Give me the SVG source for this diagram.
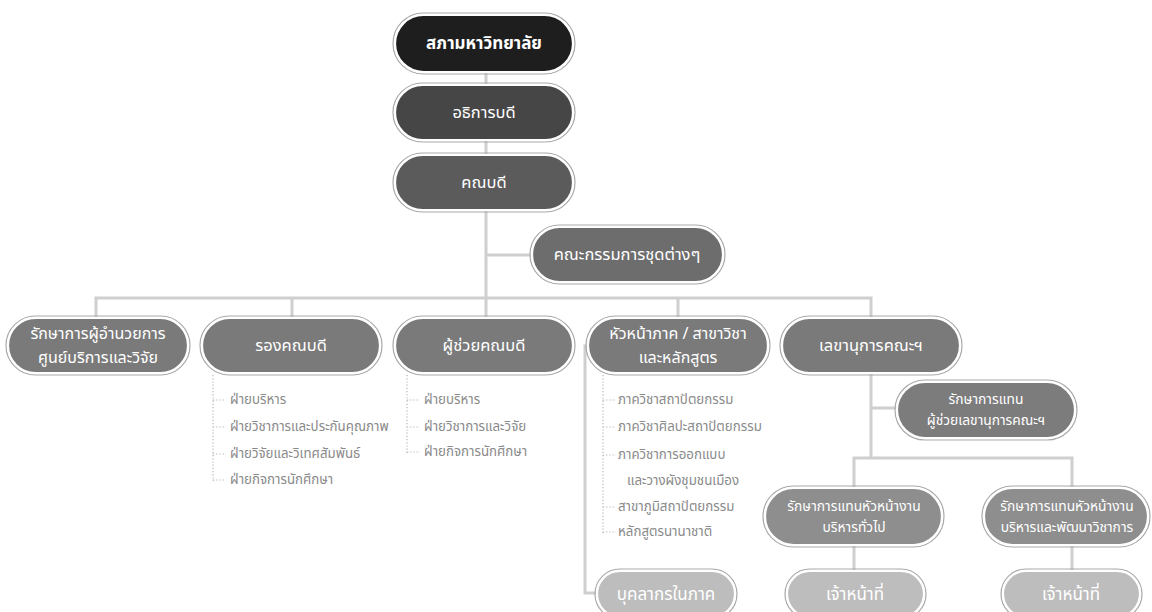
<svg xmlns="http://www.w3.org/2000/svg" width="1152" height="612" viewBox="0 0 1152 612">
<style>
.bg{fill:#ffffff}
.ring{fill:none;stroke:#a9a9a9;stroke-width:1.2}
.pill{stroke:#ffffff;stroke-width:2.2}
.t{font-family:'Noto Sans Thai','Noto Sans Thai UI','Noto Sans',Loma,Garuda,sans-serif;fill:#ffffff;text-anchor:middle}
.t16{font-size:16.5px}
.t15{font-size:16px}
.t14{font-size:13.8px}
.t17{font-size:17px}
.tb{font-weight:bold;font-size:17px}
.li{font-family:'Noto Sans Thai','Noto Sans Thai UI','Noto Sans',Loma,Garuda,sans-serif;font-size:13.3px;fill:#8a8a8a}
.c{fill:none;stroke:#cfcfcf;stroke-width:3}
.d{fill:none;stroke:#b5b5b5;stroke-width:1.2;stroke-dasharray:1.2 2}
</style>
<rect class="bg" x="0" y="0" width="1152" height="612"/>

<g id="connectors">
  <path class="c" d="M486,72 V298"/>
  <path class="c" d="M486,255 H532"/>
  <path class="c" d="M96,320 V298 H871 V320"/>
  <path class="c" d="M292,298 V320"/>
  <path class="c" d="M486,298 V320"/>
  <path class="c" d="M678,298 V320"/>
  <path class="c" d="M590,346 H585 V593 H598"/>
  <path class="c" d="M871,373 V458"/>
  <path class="c" d="M871,408 H897"/>
  <path class="c" d="M854,490 V458 H1072 V490"/>
  <path class="c" d="M854,545 V572"/>
  <path class="c" d="M1072,545 V572"/>
  <path class="d" d="M213,375 V481 M213,400 H226 M213,427 H226 M213,454 H226 M213,480 H226"/>
  <path class="d" d="M407,375 V453 M407,400 H420 M407,427 H420 M407,452 H420"/>
  <path class="d" d="M603,375 V533 M603,400 H616 M603,427 H616 M603,455 H616 M603,507 H616 M603,532 H616"/>
</g>

<g id="n-council">
  <rect class="ring" x="393" y="13" width="182" height="61" rx="30.5"/>
  <rect class="pill" x="395" y="15" width="178" height="57" rx="28.5" fill="#1e1e1e"/>
  <text class="t tb" x="484" y="49">สภามหาวิทยาลัย</text>
</g>
<g id="n-president">
  <rect class="ring" x="393" y="83" width="182" height="59" rx="29.5"/>
  <rect class="pill" x="395" y="85" width="178" height="55" rx="27.5" fill="#464646"/>
  <text class="t t16" x="484" y="118">อธิการบดี</text>
</g>
<g id="n-dean">
  <rect class="ring" x="393" y="153" width="182" height="59" rx="29.5"/>
  <rect class="pill" x="395" y="155" width="178" height="55" rx="27.5" fill="#5b5b5b"/>
  <text class="t t16" x="484" y="188">คณบดี</text>
</g>
<g id="n-committee">
  <rect class="ring" x="530" y="225" width="195" height="59" rx="29.5"/>
  <rect class="pill" x="532" y="227" width="191" height="55" rx="27.5" fill="#6d6d6d"/>
  <text class="t t16" x="627" y="260">คณะกรรมการชุดต่างๆ</text>
</g>

<g id="n-center">
  <rect class="ring" x="6" y="316" width="184" height="59" rx="29.5"/>
  <rect class="pill" x="8" y="318" width="180" height="55" rx="27.5" fill="#7a7a7a"/>
  <text class="t t15" x="98" y="339">รักษาการผู้อำนวยการ</text>
  <text class="t t15" x="98" y="363">ศูนย์บริการและวิจัย</text>
</g>
<g id="n-vice">
  <rect class="ring" x="200" y="316" width="182" height="59" rx="29.5"/>
  <rect class="pill" x="202" y="318" width="178" height="55" rx="27.5" fill="#7a7a7a"/>
  <text class="t t16" x="291" y="351">รองคณบดี</text>
  <text class="li" x="230" y="404">ฝ่ายบริหาร</text>
  <text class="li" x="230" y="431">ฝ่ายวิชาการและประกันคุณภาพ</text>
  <text class="li" x="230" y="458">ฝ่ายวิจัยและวิเทศสัมพันธ์</text>
  <text class="li" x="230" y="484">ฝ่ายกิจการนักศึกษา</text>
</g>
<g id="n-assistant">
  <rect class="ring" x="393" y="316" width="182" height="59" rx="29.5"/>
  <rect class="pill" x="395" y="318" width="178" height="55" rx="27.5" fill="#7a7a7a"/>
  <text class="t t16" x="484" y="351">ผู้ช่วยคณบดี</text>
  <text class="li" x="424" y="404">ฝ่ายบริหาร</text>
  <text class="li" x="424" y="431">ฝ่ายวิชาการและวิจัย</text>
  <text class="li" x="424" y="456">ฝ่ายกิจการนักศึกษา</text>
</g>
<g id="n-heads">
  <rect class="ring" x="586" y="316" width="184" height="59" rx="29.5"/>
  <rect class="pill" x="588" y="318" width="180" height="55" rx="27.5" fill="#7a7a7a"/>
  <text class="t t15" x="678" y="339">หัวหน้าภาค / สาขาวิชา</text>
  <text class="t t15" x="678" y="363">และหลักสูตร</text>
  <text class="li" x="618" y="404">ภาควิชาสถาปัตยกรรม</text>
  <text class="li" x="618" y="431">ภาควิชาศิลปะสถาปัตยกรรม</text>
  <text class="li" x="618" y="459">ภาควิชาการออกแบบ</text>
  <text class="li" x="627" y="485">และวางผังชุมชนเมือง</text>
  <text class="li" x="618" y="511">สาขาภูมิสถาปัตยกรรม</text>
  <text class="li" x="618" y="536">หลักสูตรนานาชาติ</text>
</g>
<g id="n-secretary">
  <rect class="ring" x="780" y="316" width="182" height="59" rx="29.5"/>
  <rect class="pill" x="782" y="318" width="178" height="55" rx="27.5" fill="#7a7a7a"/>
  <text class="t t16" x="871" y="351">เลขานุการคณะฯ</text>
</g>
<g id="n-asst-secretary">
  <rect class="ring" x="895" y="380" width="182" height="60" rx="30"/>
  <rect class="pill" x="897" y="382" width="178" height="56" rx="28" fill="#7c7c7c"/>
  <text class="t t14" x="986" y="404">รักษาการแทน</text>
  <text class="t t14" x="986" y="425">ผู้ช่วยเลขานุการคณะฯ</text>
</g>
<g id="n-general">
  <rect class="ring" x="763" y="486" width="181" height="61" rx="30.5"/>
  <rect class="pill" x="765" y="488" width="177" height="57" rx="28.5" fill="#8e8e8e"/>
  <text class="t t14" x="854" y="511">รักษาการแทนหัวหน้างาน</text>
  <text class="t t14" x="854" y="532">บริหารทั่วไป</text>
</g>
<g id="n-academic">
  <rect class="ring" x="982" y="486" width="168" height="61" rx="30.5"/>
  <rect class="pill" x="984" y="488" width="164" height="57" rx="28.5" fill="#8e8e8e"/>
  <text class="t t14" x="1067" y="511">รักษาการแทนหัวหน้างาน</text>
  <text class="t t14" x="1067" y="532">บริหารและพัฒนาวิชาการ</text>
</g>
<g id="n-staff-dept">
  <rect class="ring" x="595" y="569" width="142" height="50" rx="25"/>
  <rect class="pill" x="597" y="571" width="138" height="46" rx="23" fill="#bdbdbd"/>
  <text class="t t17" x="666" y="600">บุคลากรในภาค</text>
</g>
<g id="n-staff-1">
  <rect class="ring" x="785" y="569" width="141" height="50" rx="25"/>
  <rect class="pill" x="787" y="571" width="137" height="46" rx="23" fill="#bdbdbd"/>
  <text class="t t17" x="855" y="600">เจ้าหน้าที่</text>
</g>
<g id="n-staff-2">
  <rect class="ring" x="1001" y="569" width="141" height="50" rx="25"/>
  <rect class="pill" x="1003" y="571" width="137" height="46" rx="23" fill="#bdbdbd"/>
  <text class="t t17" x="1071" y="600">เจ้าหน้าที่</text>
</g>
</svg>
